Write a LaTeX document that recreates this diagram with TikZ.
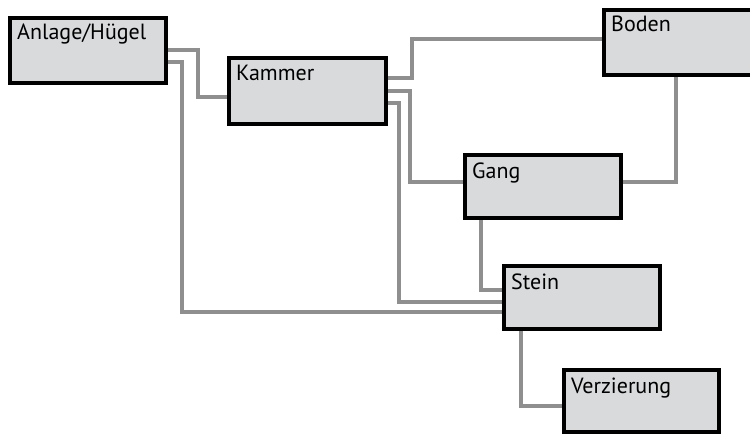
\documentclass[tikz,border=0pt]{standalone}
\usepackage{fontspec}
\setmainfont{PT Sans}
\definecolor{boxfill}{HTML}{D9DADC}
\definecolor{connc}{HTML}{8F8F8F}
\begin{document}
\begin{tikzpicture}[x=1pt,y=-1pt,
  box/.style={draw=black, line width=3.2pt, fill=boxfill, rectangle, inner sep=0pt, outer sep=0pt, anchor=north west},
  lbl/.style={anchor=base west, inner sep=0pt, font=\fontsize{22}{26}\selectfont},
  conn/.style={draw=connc, line width=3.5pt}]
\useasboundingbox (0,0) rectangle (750,436);
\clip (0,0) rectangle (750,436);
% box positions
\node[box, minimum width=156pt, minimum height=65pt] (A) at (10,18) {};
\node[box, minimum width=157pt, minimum height=66pt] (K) at (229,58) {};
\node[box, minimum width=160pt, minimum height=65pt] (B) at (604,10) {};
\node[box, minimum width=156pt, minimum height=63pt] (G) at (465,155) {};
\node[box, minimum width=156pt, minimum height=63pt] (S) at (504,266) {};
\node[box, minimum width=155pt, minimum height=62pt] (V) at (564,370) {};
% connectors
\draw[conn] (A.east |- 0,50) -- (198,50) -- (198,97) -- (K.west |- 0,97);
\draw[conn] (A.east |- 0,62) -- (182,62) -- (182,312) -- (S.west |- 0,312);
\draw[conn] (K.east |- 0,78) -- (412,78) -- (412,39) -- (B.west |- 0,39);
\draw[conn] (K.east |- 0,91) -- (410,91) -- (410,182) -- (G.west |- 0,182);
\draw[conn] (K.east |- 0,103) -- (399,103) -- (399,302) -- (S.west |- 0,302);
\draw[conn] (G.east |- 0,182) -- (676,182) -- (676,75) -- (B.south -| 676,0);
\draw[conn] (G.south -| 481,0) -- (481,290) -- (S.west |- 0,290);
\draw[conn] (S.south -| 521,0) -- (521,406) -- (V.west |- 0,406);
% boxes drawn over the connector ends
\foreach \n in {A,K,B,G,S,V}{
  \draw[line width=3.2pt, fill=boxfill] (\n.north west) rectangle (\n.south east);
}
% labels
\node[lbl] (tA) at ([xshift=7pt,yshift=-22pt]A.north west) {Anlage/Hügel};
\node[lbl] (tK) at ([xshift=7pt,yshift=-23pt]K.north west) {Kammer};
\node[lbl] (tB) at ([xshift=7pt,yshift=-22pt]B.north west) {Boden};
\node[lbl] (tG) at ([xshift=7pt,yshift=-23pt]G.north west) {Gang};
\node[lbl] (tS) at ([xshift=7pt,yshift=-23pt]S.north west) {Stein};
\node[lbl] (tV) at ([xshift=7pt,yshift=-23pt]V.north west) {Verzierung};
\end{tikzpicture}
\end{document}
